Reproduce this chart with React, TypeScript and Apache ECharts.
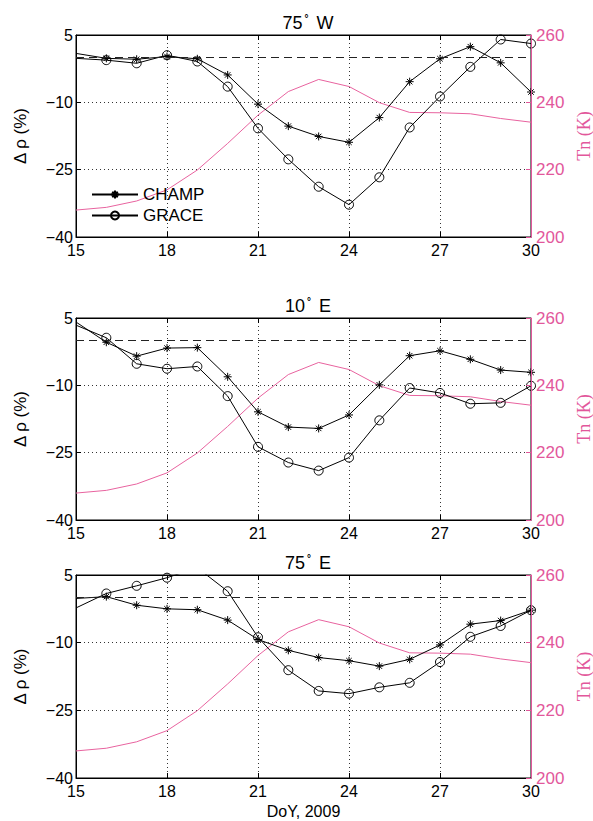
import React, { useEffect, useRef } from "react";
import * as echarts from "echarts";

const days = [15, 16, 17, 18, 19, 20, 21, 22, 23, 24, 25, 26, 27, 28, 29, 30];
const xTicks = [15, 18, 21, 24, 27, 30];
const leftTicks = [-40, -25, -10, 5];
const rightTicks = [200, 220, 240, 260];

const panelTitles = ["75", "10", "75"];
const panelDirs = ["W", "E", "E"];

const champW75 = [0.9, -0.2, -0.4, 0.2, -0.3, -3.9, -10.4, -15.3, -17.6, -18.9, -13.4, -5.4, -0.3, 2.4, -1.2, -7.7];
const graceW75 = [-0.2, -0.6, -1.3, 0.5, -0.9, -6.5, -15.8, -22.7, -28.8, -32.8, -26.7, -15.6, -8.7, -2.1, 4.0, 3.1];
const champE10 = [4.1, -0.4, -3.5, -1.7, -1.6, -8.1, -15.9, -19.3, -19.6, -16.6, -9.9, -3.4, -2.3, -4.2, -6.6, -7.1];
const graceE10 = [3.4, 0.6, -5.2, -6.3, -5.8, -12.4, -23.7, -27.2, -29.0, -26.1, -17.8, -10.6, -11.7, -14.1, -13.9, -10.1];
const champE75 = [-0.2, 0.2, -1.7, -2.5, -2.7, -5.0, -9.3, -11.7, -13.3, -14.0, -15.2, -13.7, -10.5, -5.9, -5.1, -2.8];
const graceE75 = [-2.3, 0.9, 2.6, 4.4, 6.6, 1.4, -8.8, -16.1, -20.7, -21.3, -19.9, -18.9, -14.3, -8.7, -6.3, -2.8];
const tn = [208.0, 208.8, 210.7, 214.0, 219.9, 227.8, 236.2, 243.2, 246.8, 244.7, 239.9, 237.0, 236.9, 236.6, 235.2, 234.1];
const zeroLevel = 0;

const champs = [champW75, champE10, champE75];
const graces = [graceW75, graceE10, graceE75];

const PINK = "#e2579b";
const SANS = "Liberation Sans, Arial, Helvetica, sans-serif";
const SERIF = "Liberation Serif, Times New Roman, serif";
const ASTERISK = "path://M5,0L5,10M0,5L10,5M1.6,1.6L8.4,8.4M1.6,8.4L8.4,1.6";

const grids = [
  { top: 35, height: 202 },
  { top: 318, height: 202 },
  { top: 575, height: 203 },
];

export default function App() {
  const ref = useRef<HTMLDivElement>(null);
  useEffect(() => {
    if (!ref.current) return;
    const chart = echarts.init(ref.current, undefined, { renderer: "svg" });

    const grid: any[] = [];
    const xAxis: any[] = [];
    const yAxis: any[] = [];
    const series: any[] = [];
    const title: any[] = [];

    grids.forEach((g, i) => {
      grid.push({
        left: 76,
        right: 62,
        top: g.top,
        height: g.height,
        show: true,
        borderColor: "#000",
        borderWidth: 1,
        backgroundColor: "transparent",
        containLabel: false,
        outerBoundsMode: "none",
      });
      title.push({
        text: `{n|${panelTitles[i]}}{d|°}{n| ${panelDirs[i]}}`,
        left: 303,
        textAlign: "center",
        top: g.top - 27,
        textStyle: {
          rich: {
            n: { fontFamily: SANS, fontSize: 18, color: "#000", fontWeight: "normal" },
            d: { fontFamily: SANS, fontSize: 10, color: "#000", verticalAlign: "top", padding: [0, 3, 10, 2] },
          },
        },
      });
      xAxis.push({
        type: "value",
        gridIndex: i,
        min: xTicks[0],
        max: xTicks[xTicks.length - 1],
        interval: 3,
        position: "bottom",
        axisLine: { show: true, onZero: false, lineStyle: { color: "#000", width: 1 } },
        axisTick: { show: true, inside: true, length: 5, lineStyle: { color: "#000" } },
        axisLabel: { fontFamily: SANS, fontSize: 16, color: "#000", margin: 5 },
        splitLine: { show: true, lineStyle: { color: "#000", type: [1, 3], width: 0.8 } },
        name: i === 2 ? "DoY, 2009" : "",
        nameLocation: "middle",
        nameGap: 25,
        nameTextStyle: { fontFamily: SANS, fontSize: 16, color: "#000" },
      });
      xAxis.push({
        type: "value",
        gridIndex: i,
        min: xTicks[0],
        max: xTicks[xTicks.length - 1],
        interval: 3,
        position: "top",
        axisLine: { show: true, onZero: false, lineStyle: { color: "#000", width: 1 } },
        axisTick: { show: true, inside: true, length: 5, lineStyle: { color: "#000" } },
        axisLabel: { show: false },
        splitLine: { show: false },
      });
      yAxis.push({
        type: "value",
        gridIndex: i,
        min: leftTicks[0],
        max: leftTicks[leftTicks.length - 1],
        interval: 15,
        position: "left",
        axisLine: { show: true, onZero: false, lineStyle: { color: "#000", width: 1 } },
        axisTick: { show: true, inside: true, length: 5, lineStyle: { color: "#000" } },
        axisLabel: {
          fontFamily: SANS,
          fontSize: 16,
          color: "#000",
          margin: 3,
          formatter: (v: number) => (v < 0 ? "\u2212" + Math.abs(v) : String(v)),
        },
        splitLine: { show: true, lineStyle: { color: "#000", type: [1, 3], width: 0.8 } },
        name: "\u0394 \u03c1 (%)",
        nameLocation: "middle",
        nameGap: 47,
        nameTextStyle: { fontFamily: SANS, fontSize: 17, color: "#000" },
      });
      yAxis.push({
        type: "value",
        gridIndex: i,
        min: rightTicks[0],
        max: rightTicks[rightTicks.length - 1],
        interval: 20,
        position: "right",
        axisLine: { show: true, onZero: false, lineStyle: { color: PINK, width: 1 } },
        axisTick: { show: true, inside: true, length: 5, lineStyle: { color: PINK } },
        axisLabel: { fontFamily: SANS, fontSize: 17, color: PINK, margin: 5 },
        splitLine: { show: false },
        name: "Tn (K)",
        nameLocation: "middle",
        nameGap: 33,
        nameRotate: 90,
        nameTextStyle: { fontFamily: SERIF, fontSize: 18, color: PINK },
        z: 5,
      });

      const mk = (arr: number[]) =>
        days.map((d, k) => (k === 0 ? { value: [d, arr[k]], symbol: "none" } : { value: [d, arr[k]] }));

      series.push({
        name: "CHAMP",
        type: "line",
        xAxisIndex: i * 2,
        yAxisIndex: i * 2,
        data: mk(champs[i]),
        symbol: ASTERISK,
        symbolSize: 8,
        showSymbol: true,
        clip: true,
        lineStyle: { color: "#000", width: 1 },
        itemStyle: { color: "none", borderColor: "#000", borderWidth: 1 },
        z: 4,
        markLine: {
          silent: true,
          symbol: ["none", "none"],
          label: { show: false },
          lineStyle: { color: "#222", type: [8, 5], width: 1 },
          emphasis: { disabled: true },
          data: [{ yAxis: zeroLevel }],
        },
      });
      series.push({
        name: "GRACE",
        type: "line",
        xAxisIndex: i * 2,
        yAxisIndex: i * 2,
        data: mk(graces[i]),
        symbol: "circle",
        symbolSize: 9,
        showSymbol: true,
        clip: true,
        lineStyle: { color: "#000", width: 1 },
        itemStyle: { color: "transparent", borderColor: "#000", borderWidth: 1 },
        z: 4,
      });
      series.push({
        name: "Tn",
        type: "line",
        xAxisIndex: i * 2,
        yAxisIndex: i * 2 + 1,
        data: days.map((d, k) => [d, tn[k]]),
        showSymbol: false,
        symbol: "none",
        lineStyle: { color: "#e8639f", width: 1 },
        z: 3,
      });
    });

    chart.setOption({
      animation: false,
      backgroundColor: "#fff",
      title,
      grid,
      xAxis,
      yAxis,
      series,
      legend: {
        data: ["CHAMP", "GRACE"],
        orient: "vertical",
        left: 86,
        top: 181,
        itemWidth: 46,
        itemHeight: 10,
        itemGap: 4,
        selectedMode: false,
        textStyle: { fontFamily: SANS, fontSize: 17, color: "#000" },
      },
    });
    return () => chart.dispose();
  }, []);

  return (
    <div
      ref={ref}
      style={{ position: "fixed", left: 0, top: 0, width: 593, height: 821, background: "#fff" }}
    />
  );
}
